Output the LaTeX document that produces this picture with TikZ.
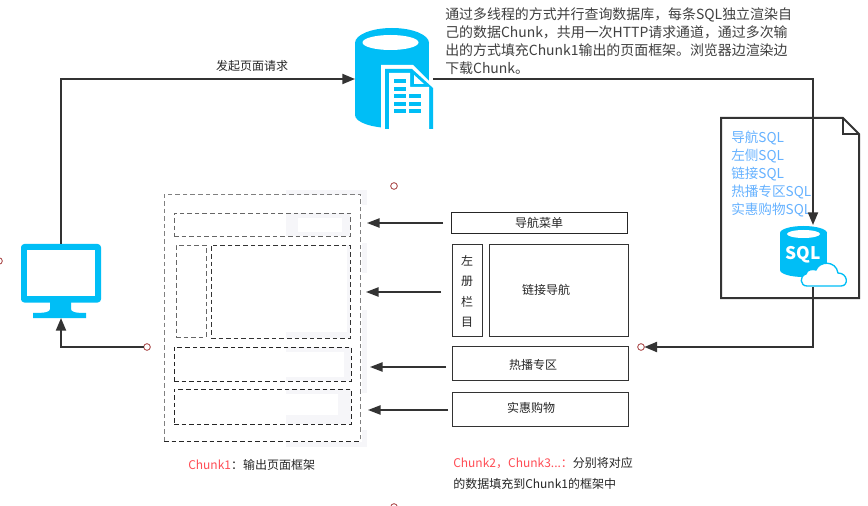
\documentclass[tikz,border=0pt]{standalone}
\usepackage{fontspec}
\setmainfont{Noto Sans CJK SC}
\usetikzlibrary{arrows.meta}
\definecolor{iconblue}{HTML}{00BEF6}
\definecolor{linedark}{HTML}{333333}
\definecolor{patchgrey}{HTML}{F6F6F9}
\definecolor{sqlblue}{HTML}{66B2FF}
\definecolor{chunkred}{HTML}{FF4D55}
\definecolor{markred}{HTML}{A33A3A}

\begin{document}
\begin{tikzpicture}[x=0.75pt, y=-0.75pt]
            \tikzstyle{line} = [line width=1.5pt, color=linedark]
            \tikzstyle{flow} = [line, -{Triangle[length=9.5pt, width=7.5pt]}]
            \tikzstyle{pull} = [line width=1.1pt, color=linedark, -{Triangle[length=9.5pt, width=7pt]}]
            \tikzstyle{iconbox} = [inner sep=0, outer sep=0]
            \tikzstyle{frame} = [draw, dash pattern=on 3.5pt off 2.2pt, line width=0.6pt, inner sep=0, outer sep=0]
            \tikzstyle{block} = [draw=linedark, line width=0.65pt, inner sep=0, outer sep=0]
            \tikzstyle{tag} = [font=\fontsize{9}{12}\selectfont, inner sep=0, color=black!85]
            \tikzstyle{dot} = [circle, draw=markred, fill=white, line width=0.6pt, minimum size=5pt, inner sep=0, outer sep=0]
            \clip (0, 0) rectangle (868, 506);
            \fill[white] (0, 0) rectangle (868, 506);
            % washed patches behind the page frame
            \foreach \xa/\ya/\xb/\yb in {286/190/367/195, 362/190/367/205, 362/243/367/273, 362/310/367/393,
                    362/430/367/447, 286/442/367/447, 286/213/350/218, 286/232/350/236, 286/213/298/236,
                    342/213/350/236, 286/332/350/338, 347/245/350/338, 286/347/351/352, 344/347/351/381,
                    286/377/351/381, 286/389/351/394, 338/389/351/424, 286/415/351/424}
                \fill[patchgrey] (\xa, \ya) rectangle (\xb, \yb);
            % page frame
            \node[frame, draw=black!50, minimum width=196*0.75pt, minimum height=247*0.75pt] (page) at (262, 317.5) {};
            \draw[dash pattern=on 3.5pt off 2.2pt, line width=0.6pt, color=black!85] (page.south west) -- (page.south east);
            \node[frame, draw=black!60, minimum width=176*0.75pt, minimum height=23*0.75pt] (pagenav) at (262, 224.5) {};
            \node[frame, draw=black!60, minimum width=30*0.75pt, minimum height=92*0.75pt] (pageleft) at (191, 291) {};
            \node[frame, draw=black!80, minimum width=139*0.75pt, minimum height=93*0.75pt] (pagelink) at (280.5, 291.5) {};
            \node[frame, draw=black!85, minimum width=177*0.75pt, minimum height=34*0.75pt] (pagehot) at (262.5, 364) {};
            \node[frame, draw=black!85, minimum width=177*0.75pt, minimum height=35*0.75pt] (pagebuy) at (262.5, 406.5) {};
            % blocks on the right
            \node[block, tag, minimum width=176*0.75pt, minimum height=21*0.75pt] (nav) at (539, 222.5) {导航菜单};
            \node[block, minimum width=30*0.75pt, minimum height=92*0.75pt] (left) at (467, 290) {};
            \node[tag, align=center] (lefttext) at (467, 291.5) {左\\[3.4pt]册\\[3.4pt]栏\\[3.4pt]目};
            \node[block, minimum width=139*0.75pt, minimum height=92*0.75pt] (link) at (558.5, 290) {};
            \node[tag] (linktext) at (546, 290) {链接导航};
            \node[block, minimum width=176*0.75pt, minimum height=34*0.75pt] (hot) at (540, 363) {};
            \node[tag] (hottext) at (533, 365) {热播专区};
            \node[block, minimum width=176*0.75pt, minimum height=34*0.75pt] (buy) at (540, 409) {};
            \node[tag] (buytext) at (531, 408) {实惠购物};
            % pull arrows
            \coordinate (navend) at (367, 223);
            \coordinate (navstart) at (443, 223);
            \coordinate (linkend) at (366, 292);
            \coordinate (linkstart) at (441, 292);
            \coordinate (hotend) at (370, 367);
            \coordinate (hotstart) at (446, 367);
            \coordinate (buyend) at (368, 410);
            \coordinate (buystart) at (448, 410);
            \draw[pull] (navstart) -- (navend);
            \draw[pull] (linkstart) -- (linkend);
            \draw[pull] (hotstart) -- (hotend);
            \draw[pull] (buystart) -- (buyend);
            % sql sheet
            \draw[line, fill=white] (721, 118) -- (843, 118) -- (859, 134) -- (859, 298) -- (721, 298) -- cycle;
            \draw[line] (843, 118) -- (843, 134) -- (859, 134);
            \node[anchor=north west, inner sep=0, align=left, color=sqlblue, font=\fontsize{10.2}{13.5}\selectfont] (sqllist) at (731, 131) {导航SQL\\左侧SQL\\链接SQL\\热播专区SQL\\实惠购物SQL};
            % computer
            \node[iconbox, minimum width=80*0.75pt, minimum height=74*0.75pt] (pc) at (61, 281) {};
            \fill[iconblue, rounded corners=2.5pt] (21, 244) rectangle (101, 302.5);
            \fill[white] (27, 250) rectangle (95, 296);
            \fill[iconblue] (50, 302) -- (71, 302) -- (71, 309) .. controls (71, 312) and (75, 313) .. (86, 313) -- (86, 318) -- (33, 318) -- (33, 313) .. controls (46, 313) and (50, 312) .. (50, 309) -- cycle;
            % database with document
            \node[iconbox, minimum width=78*0.75pt, minimum height=100*0.75pt] (dbicon) at (394, 79) {};
            \fill[iconblue] (355, 43) rectangle (429, 115);
            \fill[iconblue] (392, 43) circle[x radius=37, y radius=15];
            \fill[iconblue] (392, 115) circle[x radius=37, y radius=13];
            \fill[white] (390.5, 42.5) circle[x radius=28, y radius=7.5];
            \fill[white] (381, 65) -- (413, 65) -- (433, 85) -- (433, 129) -- (381, 129) -- cycle;
            \fill[iconblue] (385, 69) -- (412, 69) -- (433, 88) -- (433, 129) -- (385, 129) -- cycle;
            \fill[white] (389, 73) -- (410, 73) -- (410, 87) -- (429, 87) -- (429, 129) -- (389, 129) -- cycle;
            \fill[white] (414, 75) -- (414, 84) -- (424, 84) -- cycle;
            \foreach \ya in {79, 87, 94, 102, 109}
                \fill[iconblue] (394, \ya) rectangle (406, \ya+3.6);
            \foreach \ya in {94, 102, 109}
                \fill[iconblue] (409, \ya) rectangle (421, \ya+3.6);
            % sql database with cloud
            \node[iconbox, minimum width=66*0.75pt, minimum height=62*0.75pt] (sqlicon) at (813, 256) {};
            \draw[flow] (dbicon.east) -| (sqlicon.north);
            \fill[iconblue] (780, 233) rectangle (827, 270);
            \fill[iconblue] (803.5, 233) circle[x radius=23.5, y radius=7];
            \fill[iconblue] (803.5, 270) circle[x radius=23.5, y radius=7];
            \fill[white] (803.5, 234) circle[x radius=16.5, y radius=4];
            \node[inner sep=0, color=white, font=\fontsize{13}{13}\selectfont\bfseries] (sqlword) at (803, 255) {SQL};
            \draw[iconblue, fill=white, line width=1pt] (807, 286) .. controls (800, 286) and (799, 276) .. (806, 274) .. controls (807, 269) and (813, 269) .. (816, 270) .. controls (819, 261) and (836, 260) .. (838, 273) .. controls (848, 273) and (849, 286) .. (841, 286) -- cycle;
            % connectors
            \node[dot] (pagemark) at (147, 347) {};
            \node[dot] (fillmark) at (641, 347) {};
            \node[dot] (topmark) at (394, 186) {};
            \node[dot] (lowmark) at (394, 507) {};
            \node[dot] (edgemark) at (-1, 261) {};
            \draw[flow] (pc.north) |- (dbicon.west);
            \draw[flow] (pagemark) -| (pc.south);
            \draw[flow] (sqlicon.south) |- (fillmark);
            % texts
            \node[tag] (request) at (252, 66) {发起页面请求};
            \node[anchor=north west, inner sep=0, align=left, color=black!75, font=\fontsize{10.45}{13.5}\selectfont] (notes) at (445, 7.5) {通过多线程的方式并行查询数据库，每条SQL独立渲染自\\己的数据Chunk，共用一次HTTP请求通道，通过多次输\\出的方式填充Chunk1输出的页面框架。浏览器边渲染边\\下载Chunk。};
            \node[tag, anchor=west] (chunkone) at (188, 465) {\textcolor{chunkred}{Chunk1}：输出页面框架};
            \node[tag, anchor=west] (chunkrest) at (453, 463) {\textcolor{chunkred}{Chunk2，Chunk3...：}分别将对应};
            \node[tag, anchor=west] (chunkfill) at (453, 484) {的数据填充到Chunk1的框架中};
\end{tikzpicture}
\end{document}
